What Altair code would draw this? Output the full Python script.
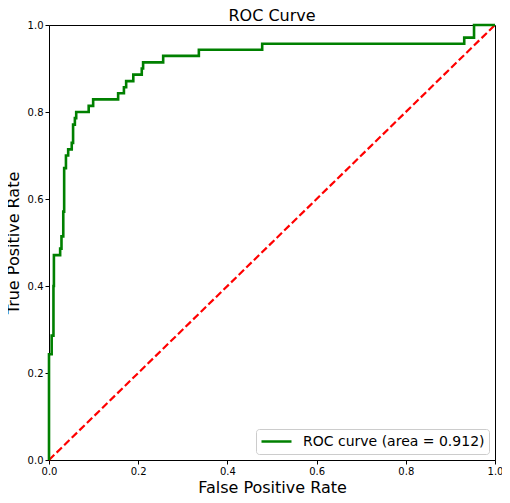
import altair as alt
import pandas as pd

# ROC step curve vertices (False Positive Rate, True Positive Rate)
fpr = [0.0, 0.0, 0.006, 0.006, 0.010, 0.010, 0.011, 0.011, 0.025, 0.025, 0.028, 0.028,
       0.032, 0.032, 0.034, 0.034, 0.038, 0.038, 0.043, 0.043, 0.051, 0.051, 0.054, 0.054,
       0.058, 0.058, 0.061, 0.061, 0.089, 0.089, 0.099, 0.099, 0.155, 0.155, 0.168, 0.168,
       0.173, 0.173, 0.189, 0.189, 0.208, 0.208, 0.211, 0.211, 0.256, 0.256, 0.336, 0.336,
       0.478, 0.478, 0.931, 0.931, 0.953, 0.953, 1.0]
tpr = [0.0, 0.243, 0.243, 0.286, 0.286, 0.400, 0.400, 0.471, 0.471, 0.486, 0.486, 0.514,
       0.514, 0.571, 0.571, 0.671, 0.671, 0.700, 0.700, 0.714, 0.714, 0.729, 0.729, 0.771,
       0.771, 0.786, 0.786, 0.800, 0.800, 0.814, 0.814, 0.829, 0.829, 0.843, 0.843, 0.857,
       0.857, 0.871, 0.871, 0.886, 0.886, 0.900, 0.900, 0.914, 0.914, 0.929, 0.929, 0.943,
       0.943, 0.957, 0.957, 0.971, 0.971, 1.0, 1.0]
label = "ROC curve (area = 0.912)"

diag_x = [0.0, 1.0]
diag_y = [0.0, 1.0]
ticks = [0.0, 0.2, 0.4, 0.6, 0.8, 1.0]

roc = pd.DataFrame({"fpr": fpr, "tpr": tpr, "idx": list(range(len(fpr))),
                    "series": [label] * len(fpr)})
diag = pd.DataFrame({"fpr": diag_x, "tpr": diag_y, "idx": [0, 1]})

font = "DejaVu Sans"
xax = alt.Axis(title="False Positive Rate", values=ticks, format=".1f", grid=False,
               titleFontSize=16, titleFontWeight="normal", titleColor="black",
               titleBaseline="alphabetic", titleY=32, titleX=223, titleAlign="center",
               labelFontSize=10, labelColor="black", domainColor="black",
               tickColor="black", tickSize=4, labelFlush=False)
yax = alt.Axis(title="True Positive Rate", values=ticks, format=".1f", grid=False,
               titleFontSize=16, titleFontWeight="normal", titleColor="black",
               titleBaseline="alphabetic", titleX=-31, titleY=217.5, titleAlign="center",
               titleAngle=270,
               labelFontSize=10, labelColor="black", domainColor="black",
               tickColor="black", tickSize=4, labelFlush=False)
xs = alt.Scale(domain=[0, 1], nice=False, zero=False)
ys = alt.Scale(domain=[0, 1], nice=False, zero=False)

green = alt.Chart(roc).mark_line(strokeWidth=2.6, clip=False).encode(
    x=alt.X("fpr:Q", scale=xs, axis=xax),
    y=alt.Y("tpr:Q", scale=ys, axis=yax),
    order="idx:Q",
    color=alt.Color("series:N", scale=alt.Scale(domain=[label], range=["#008000"]),
                    legend=alt.Legend(title=None, orient="bottom-right", symbolType="stroke",
                                      symbolSize=900, symbolStrokeWidth=2.6, clipHeight=17,
                                      labelFontSize=14, labelColor="black", labelLimit=0,
                                      labelOffset=10,
                                      fillColor="white", strokeColor="#cccccc",
                                      cornerRadius=3, padding=4, offset=6,
                                      labelFont=font)),
)

red = alt.Chart(diag).mark_line(strokeWidth=2.2, strokeDash=[7.4, 3.2], color="#ff0000").encode(
    x=alt.X("fpr:Q", scale=xs),
    y=alt.Y("tpr:Q", scale=ys),
    order="idx:Q",
)

chart = alt.layer(red, green).properties(
    width=446, height=435,
    title=alt.TitleParams("ROC Curve", fontSize=16, fontWeight="normal", color="black",
                          font=font, offset=-4),
    autosize=alt.AutoSizeParams(type="none"),
    padding={"left": 41, "top": 17, "right": 7, "bottom": 35},
).configure(font=font).configure_view(stroke="black", strokeWidth=1).configure_axis(
    labelFont=font, titleFont=font)

chart.save("out.html", embed_options={"renderer": "svg", "actions": False})
